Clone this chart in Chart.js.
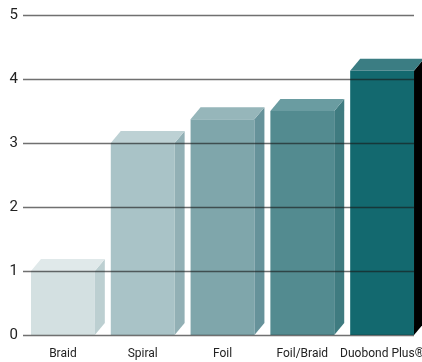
<!DOCTYPE html>
<html lang="en">
  <head>
    <meta charset="utf-8">
    <title>Shield effectiveness</title>
    <style>
      body { margin: 0; background: #fff; }
      #wrap { width: 422px; height: 362px; position: relative; }
    </style>
  </head>
  <body>
    <div id="wrap"><canvas id="graph"></canvas></div>

    <script src="https://cdn.jsdelivr.net/npm/chart.js@4"></script>
    <script>
    // data
    var categories = ['Braid', 'Spiral', 'Foil', 'Foil/Braid', 'Duobond Plus\u00ae'];
    var values = [1, 3, 3.37, 3.5, 4.13];
    var yTicks = [0, 1, 2, 3, 4, 5];

    // colours: front, right side, top
    var frontCols = ['#d3e0e1', '#a9c3c7', '#7fa6ab', '#538b90', '#13696f'];
    var sideCols  = ['#bccfd1', '#92b0b5', '#66929a', '#3f7b80', '#000000'];
    var topCols   = ['#e0e9ea', '#bdd1d4', '#96b6ba', '#6a9ca1', '#3b7d83'];

    var DX = 10, DY = 12;
    var font = "Roboto, 'Liberation Sans', sans-serif";

    // draws the top and side faces of each bar, then the grid lines over them
    var boxes = {
      id: 'boxes',
      afterDatasetsDraw: function (chart) {
        var ctx = chart.ctx;
        var meta = chart.getDatasetMeta(0);
        ctx.save();
        meta.data.forEach(function (bar, i) {
          var p = bar.getProps(['x', 'y', 'base', 'width'], true);
          var l = p.x - p.width / 2, r = p.x + p.width / 2;
          ctx.fillStyle = sideCols[i];
          ctx.beginPath();
          ctx.moveTo(r, p.y);
          ctx.lineTo(r + DX, p.y - DY);
          ctx.lineTo(r + DX, p.base - DY);
          ctx.lineTo(r, p.base);
          ctx.closePath();
          ctx.fill();
          ctx.fillStyle = topCols[i];
          ctx.beginPath();
          ctx.moveTo(l, p.y);
          ctx.lineTo(l + DX, p.y - DY);
          ctx.lineTo(r + DX, p.y - DY);
          ctx.lineTo(r, p.y);
          ctx.closePath();
          ctx.fill();
        });

        var ys = chart.scales.y;
        var left = chart.chartArea.left, right = chart.chartArea.right - 8;
        ctx.strokeStyle = 'rgba(25,25,25,0.62)';
        ctx.lineWidth = 1.6;
        yTicks.forEach(function (v) {
          var py = Math.round(ys.getPixelForValue(v)) + 0.5;
          ctx.beginPath();
          ctx.moveTo(left, py);
          ctx.lineTo(right, py);
          ctx.stroke();
        });
        ctx.restore();
      }
    };

    var ctx = document.getElementById('graph').getContext('2d');
    var chart = new Chart(ctx, {
      type: 'bar',
      data: {
        labels: categories,
        datasets: [{
          data: values,
          backgroundColor: frontCols,
          borderWidth: 0,
          barPercentage: 0.8,
          categoryPercentage: 1.0
        }]
      },
      options: {
        responsive: true,
        maintainAspectRatio: false,
        animation: false,
        layout: { padding: { top: 15, right: 0, left: 0, bottom: 0 } },
        plugins: { legend: { display: false }, tooltip: { enabled: false } },
        scales: {
          x: {
            grid: { display: false, drawTicks: false },
            border: { display: false },
            ticks: { color: '#222', font: { family: font, size: 12 }, padding: 12, maxRotation: 0, autoSkip: false },
            afterFit: function (s) { s.height = 27; s.paddingLeft = 0; s.paddingRight = 0; }
          },
          y: {
            min: 0,
            max: 5,
            grid: { display: false, drawTicks: false },
            border: { display: false },
            ticks: { stepSize: 1, color: '#222', font: { family: font, size: 15 }, padding: 5 },
            afterFit: function (s) { s.width = 23; s.paddingTop = 0; s.paddingBottom = 0; }
          }
        }
      },
      plugins: [boxes]
    });
    </script>
  </body>
</html>
